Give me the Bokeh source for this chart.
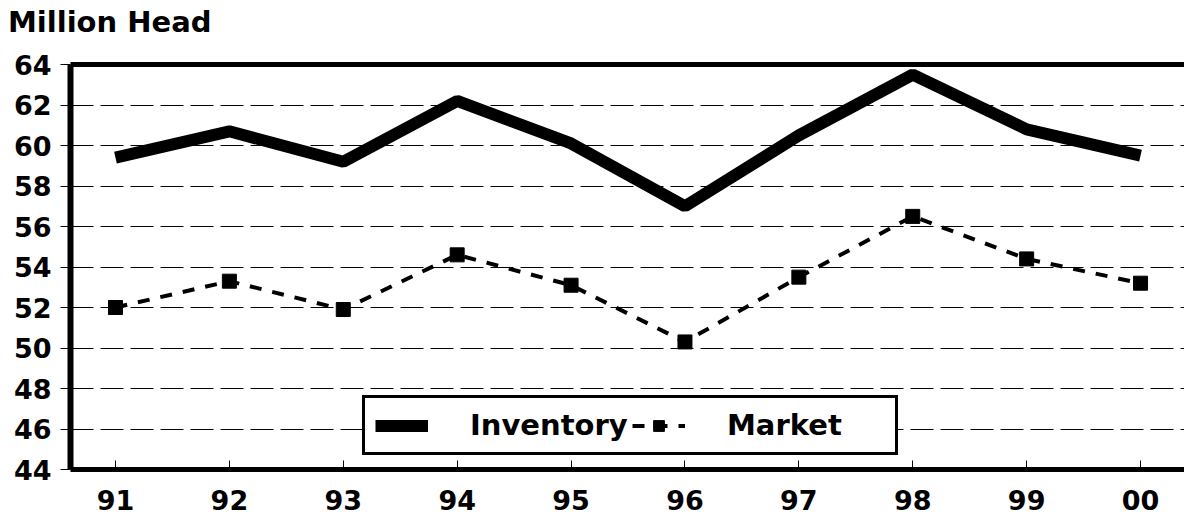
from bokeh.plotting import figure
from bokeh.models import (ColumnDataSource, FixedTicker, LinearAxis, Range1d,
                          Legend, LegendItem, Div)
from bokeh.layouts import column
from bokeh.embed import file_html
from bokeh.resources import INLINE

# ---- data ----
years = [1991, 1992, 1993, 1994, 1995, 1996, 1997, 1998, 1999, 2000]
year_labels = ["91", "92", "93", "94", "95", "96", "97", "98", "99", "00"]
inventory = [59.4, 60.7, 59.2, 62.2, 60.1, 57.0, 60.5, 63.5, 60.8, 59.5]
market = [52.0, 53.3, 51.9, 54.6, 53.1, 50.3, 53.5, 56.5, 54.4, 53.2]
y_ticks = [44, 46, 48, 50, 52, 54, 56, 58, 60, 62, 64]
title_text = "Million Head"

FONT = "DejaVu Sans"
FS = "27px"
FS_BIG = "29px"

src = ColumnDataSource(dict(year=years, inventory=inventory, market=market))

# title as HTML text above the plot
title_div = Div(
    text=('<div style="font-family:\'DejaVu Sans\';font-size:29px;font-weight:bold;'
          'line-height:29px;padding:8px 0 0 8px;color:black;white-space:nowrap;">'
          + title_text + '</div>'),
    width=1184, height=40, margin=0)

p = figure(width=1184, height=477, output_backend="svg", toolbar_location=None,
           x_range=Range1d(1990.605, 2000.386), y_range=Range1d(44, 64),
           min_border_left=70, min_border_right=0, min_border_top=24,
           min_border_bottom=48, margin=0)
p.outline_line_color = None
p.background_fill_color = "white"
p.border_fill_color = "white"

# x axis (bottom)
xa = p.below[0]
xa.ticker = FixedTicker(ticks=years)
xa.major_label_overrides = {y: l for y, l in zip(years, year_labels)}
xa.axis_line_width = 5
xa.axis_line_color = "black"
xa.major_tick_out = 0
xa.major_tick_in = 9
xa.major_tick_line_width = 1
xa.major_tick_line_color = "black"
xa.minor_tick_line_color = None
xa.major_label_text_font = FONT
xa.major_label_text_font_size = FS
xa.major_label_text_font_style = "bold"
xa.major_label_text_color = "black"
xa.major_label_standoff = 20

# y axis
ya = p.left[0]
ya.ticker = FixedTicker(ticks=y_ticks)
ya.axis_line_width = 6
ya.axis_line_color = "black"
ya.major_tick_out = 10
ya.major_tick_in = 0
ya.major_tick_line_width = 1
ya.major_tick_line_color = "black"
ya.minor_tick_line_color = None
ya.major_label_text_font = FONT
ya.major_label_text_font_size = FS
ya.major_label_text_font_style = "bold"
ya.major_label_text_color = "black"
ya.major_label_standoff = 9

# top border as an empty axis
top = LinearAxis(ticker=FixedTicker(ticks=[]), axis_line_width=5,
                 axis_line_color="black", major_tick_line_color=None,
                 minor_tick_line_color=None, major_label_text_font_size="0px",
                 major_tick_out=0, major_tick_in=0, major_label_standoff=0)
p.add_layout(top, "above")

# grid
p.xgrid.grid_line_color = None
p.ygrid.ticker = FixedTicker(ticks=y_ticks)
p.ygrid.grid_line_color = "black"
p.ygrid.grid_line_width = 1
p.ygrid.grid_line_dash = "23 7"

# series
inv = p.line("year", "inventory", source=src, line_width=12, line_color="black")
mkt_line = p.line("year", "market", source=src, line_width=4, line_color="black",
                  line_dash="12 11")
mkt_pts = p.scatter("year", "market", source=src, marker="square", size=14,
                    fill_color="black", line_color="black")

legend = Legend(items=[LegendItem(label="Inventory", renderers=[inv]),
                       LegendItem(label="Market", renderers=[mkt_line, mkt_pts])],
                location=(292, 14), orientation="horizontal",
                glyph_width=53, glyph_height=27, label_standoff=42,
                label_width=158, spacing=4, padding=10, margin=0,
                border_line_width=3, border_line_color="black",
                border_line_alpha=1.0,
                background_fill_color="white", background_fill_alpha=1.0,
                label_text_font=FONT, label_text_font_size=FS_BIG,
                label_text_font_style="bold", label_text_color="black")
p.add_layout(legend, "center")

layout = column(title_div, p, spacing=0, margin=0)
open("out.html", "w").write(file_html(layout, INLINE))
